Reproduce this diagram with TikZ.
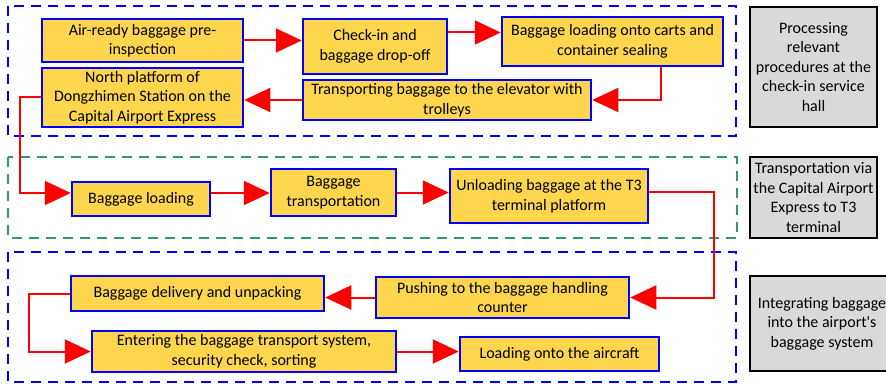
\documentclass[tikz,border=0pt]{standalone}
\usepackage{fontspec}
\setmainfont{Carlito}
\usetikzlibrary{arrows.meta}
\definecolor{boxyellow}{RGB}{253,214,78}
\definecolor{boxblue}{RGB}{0,0,255}
\definecolor{flowred}{RGB}{255,0,0}
\definecolor{stagegrey}{RGB}{217,217,217}
\definecolor{framegreen}{RGB}{51,153,102}
\begin{document}
\begin{tikzpicture}[x=1pt, y=-1pt,
    >={Triangle[length=26pt,width=24pt]},
    font=\fontsize{16}{19.5}\selectfont,
    procbox/.style={draw=boxblue, line width=2.5pt, fill=boxyellow, align=center, inner sep=1pt},
    stagebox/.style={draw=black, line width=2.5pt, fill=stagegrey, align=center, inner sep=1pt},
    flow/.style={->, draw=flowred, line width=2pt},
    phaseframe/.style={line width=2.5pt, dash pattern=on 10pt off 7pt}]
\useasboundingbox (0,0) rectangle (886,385);
\draw[phaseframe, boxblue](8,6) rectangle (736,136);
\draw[phaseframe, framegreen](8,157) rectangle (737,238);
\draw[phaseframe, boxblue](8,252) rectangle (736,382);
\node[procbox, minimum width=201pt, minimum height=43pt](prein) at (142.5,40.5){Air-ready baggage pre-\\inspection};
\node[procbox, minimum width=144pt, minimum height=55pt](checkin) at (375,46.5){Check-in and\\baggage drop-off};
\node[procbox, minimum width=221pt, minimum height=49pt](sealing) at (612.5,41.5){Baggage loading onto carts and\\container sealing};
\node[procbox, minimum width=201pt, minimum height=59pt](platform) at (142.5,97.5){North platform of\\Dongzhimen Station on the\\Capital Airport Express};
\node[procbox, minimum width=288pt, minimum height=40pt](elevator) at (447,100){Transporting baggage to the elevator with\\trolleys};
\node[procbox, minimum width=138pt, minimum height=34pt](loading) at (141,199){Baggage loading};
\node[procbox, minimum width=125pt, minimum height=47pt](transport) at (333.5,192.5){Baggage\\transportation};
\node[procbox, minimum width=198pt, minimum height=54pt](unloading) at (549,196){Unloading baggage at the T3\\terminal platform};
\node[procbox, minimum width=253pt, minimum height=41pt](counter) at (502.5,297.5){Pushing to the baggage handling\\counter};
\node[procbox, minimum width=253pt, minimum height=35pt](unpack) at (197.5,293.5){Baggage delivery and unpacking};
\node[procbox, minimum width=304pt, minimum height=41pt](sorting) at (244,351.5){Entering the baggage transport system,\\security check, sorting};
\node[procbox, minimum width=199pt, minimum height=34pt](aircraft) at (559.5,354){Loading onto the aircraft};
\node[stagebox, minimum width=127pt, minimum height=120pt](hall) at (813.5,67){Processing\\relevant\\procedures at the\\check-in service\\hall};
\node[stagebox, minimum width=127pt, minimum height=81pt](express) at (813.5,197.5){Transportation via\\the Capital Airport\\Express to T3\\terminal};
\node[stagebox, minimum width=144pt, minimum height=95pt](system) at (822,323.5){Integrating baggage\\into the airport\textquotesingle s\\baggage system};
\draw[flow](prein.east)--(prein.east -| checkin.west);
\draw[flow]([yshift=14pt]checkin.east)--([yshift=14pt]checkin.east -| sealing.west);
\draw[flow]([xshift=48pt]sealing.south)|-(elevator.east);
\draw[flow](elevator.west)--(elevator.west -| platform.east);
\draw[flow](platform.west)--++(-21,0)|-([yshift=6pt]loading.west);
\draw[flow]([yshift=6pt]loading.east)--([yshift=6pt]loading.east -| transport.west);
\draw[flow](transport.east)--(transport.east -| unloading.west);
\draw[flow]([yshift=4pt]unloading.east)--++(65,0)|-(counter.east);
\draw[flow](counter.west)--(counter.west -| unpack.east);
\draw[flow](unpack.west)--++(-41,0)|-(sorting.west);
\draw[flow](sorting.east)--(sorting.east -| aircraft.west);
\end{tikzpicture}
\end{document}
